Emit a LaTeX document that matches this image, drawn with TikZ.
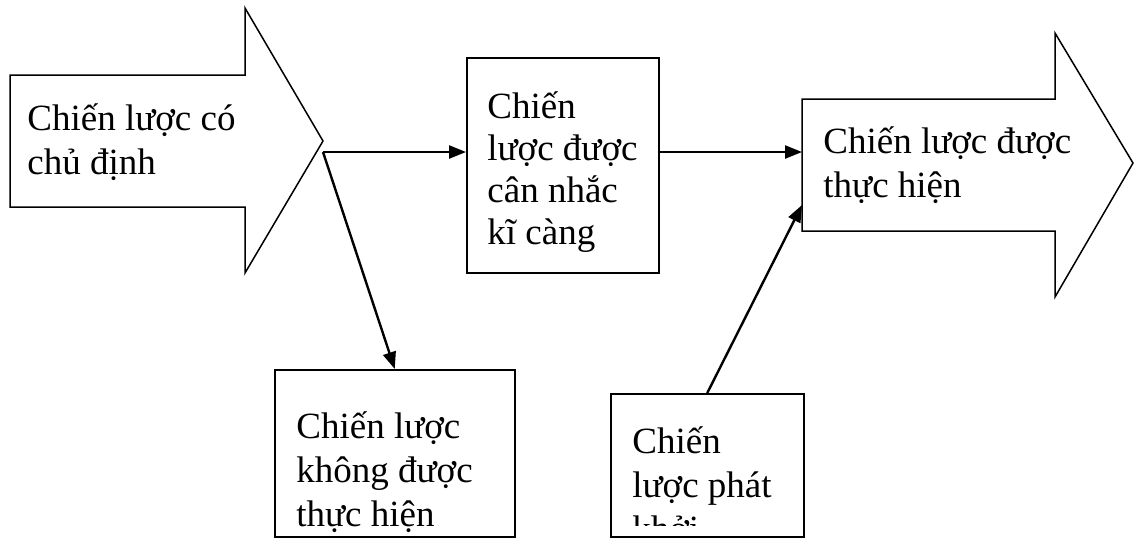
\documentclass[tikz,border=0pt]{standalone}
\usepackage{fontspec}
\setmainfont{Liberation Serif}
\usetikzlibrary{arrows.meta}
\tikzset{
	block/.style = {draw, line width=0.75pt, inner sep=0pt, anchor=north west},
	blocktext/.style = {align=left, anchor=base west, inner sep=0pt, font=\fontsize{18.5}{22}\selectfont},
	link/.style = {draw, line width=1.2pt, -{Triangle[length=8.5pt, width=6.5pt]}}
}
\begin{document}
\begin{tikzpicture}[x=0.5pt, y=-0.5pt]
			\useasboundingbox (0, 0) rectangle (1135, 538);
			% big arrow on the left (base of text = last line)
			\draw[line width=0.75pt]
				(10, 75) -- (245, 75) -- (245, 8) -- (323, 141)
				-- (245, 273) -- (245, 207) -- (10, 207) -- cycle;
			\node[blocktext] (intended) at (27, 174) {Chiến lược có\\chủ định};
			% big arrow on the right
			\draw[line width=0.75pt]
				(802, 99) -- (1055, 99) -- (1055, 33) -- (1133, 163)
				-- (1055, 297) -- (1055, 231) -- (802, 231) -- cycle;
			\node[blocktext] (realized) at (823, 197) {Chiến lược được\\thực hiện};
			% boxes
			\node[block, minimum width=96pt, minimum height=107.5pt] (deliberate) at (466, 57) {};
			\node[blocktext, font=\fontsize{18.5}{21}\selectfont] (deliberate text) at (487, 244)
				{Chiến\\lược được\\cân nhắc\\kĩ càng};
			\node[block, minimum width=120pt, minimum height=83.5pt] (unrealized) at (274, 369) {};
			\node[blocktext] (unrealized text) at (296, 526) {Chiến lược\\không được\\thực hiện};
			\node[block, minimum width=96.5pt, minimum height=71.5pt] (emergent) at (610, 393) {};
			\begin{scope}
				\clip (611, 394) rectangle (802, 525);
				\node[blocktext] (emergent text) at (632, 541) {Chiến\\lược phát\\khởi};
			\end{scope}
			% connectors
			\coordinate (split) at (323, 152);
			\coordinate (merge) at (802, 205);
			\draw[link] (split) -- (split -| deliberate.west);
			\draw[link] (split) -- (unrealized.north);
			\draw[link] (split -| deliberate.east) -- (split -| merge);
			\draw[link] (emergent.north) -- (merge);
		\end{tikzpicture}
\end{document}
